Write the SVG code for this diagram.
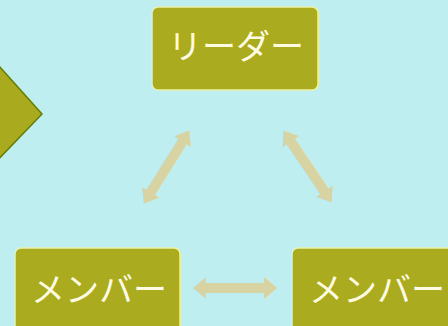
<svg xmlns="http://www.w3.org/2000/svg" width="448" height="326" viewBox="0 0 448 326">
<defs>
<style>
.box{fill:#aaab1f;stroke:#e9f2a8;stroke-width:1.5}
.lbl{fill:#fffbe0;font-family:"Noto Sans CJK JP","Noto Sans",sans-serif;font-size:34px;text-anchor:middle}
.arr{fill:#d8d3a3}
</style>
</defs>
<rect width="448" height="326" fill="#bfeef0"/>
<g id="shape-left">
<polygon points="-10,56 42,114 -10,168" fill="#a9aa1d" stroke="#5c7d22" stroke-width="1.5"/>
</g>
<g id="connectors">
<polygon class="arr" transform="translate(166.5,167) rotate(-58)" points="-43,0 -30,-10 -30,-5 30,-5 30,-10 43,0 30,10 30,5 -30,5 -30,10"/>
<polygon class="arr" transform="translate(307.5,166.5) rotate(56)" points="-43,0 -30,-10 -30,-5 30,-5 30,-10 43,0 30,10 30,5 -30,5 -30,10"/>
<polygon class="arr" points="193,288 206,277 206,283 264,283 264,277 277,288 264,299 264,293 206,293 206,299"/>
</g>
<g id="node-leader">
<rect class="box" x="152" y="7" width="166" height="83" rx="6"/>
<text class="lbl" x="236" y="59">リーダー</text>
</g>
<g id="node-member-left">
<rect class="box" x="15" y="248" width="165" height="90" rx="6"/>
<text class="lbl" x="99" y="302">メンバー</text>
</g>
<g id="node-member-right">
<rect class="box" x="292" y="248" width="170" height="90" rx="6"/>
<text class="lbl" x="377" y="302">メンバー</text>
</g>
</svg>
